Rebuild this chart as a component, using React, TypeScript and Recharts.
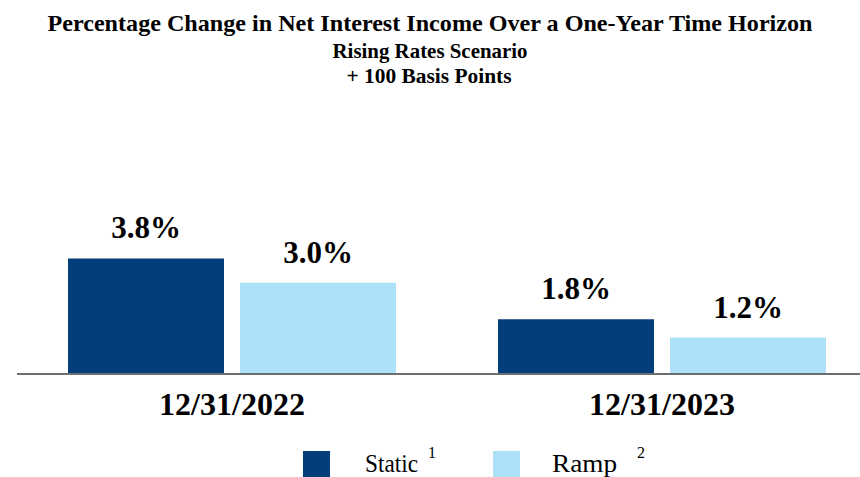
import React from "react";
import { BarChart, Bar, XAxis, YAxis, Legend, LabelList } from "recharts";

const categories = ["12/31/2022", "12/31/2023"];
const staticValues = [3.8, 1.8];
const rampValues = [3.0, 1.2];
const seriesNames = ["Static", "Ramp"];
const seriesNotes = ["1", "2"];
const titleLines = [
  "Percentage Change in Net Interest Income Over a One-Year Time Horizon",
  "Rising Rates Scenario",
  "+ 100 Basis Points",
];

const data = categories.map((c, i) => ({
  date: c,
  static: staticValues[i],
  ramp: rampValues[i],
}));

const FONT = "Liberation Serif, Times New Roman, Times, serif";
const NAVY = "#033D7A";
const LIGHT = "#ADE1FA";

const ValueLabel = (props: any) => {
  const { x, y, width, value } = props;
  return (
    <text
      x={x + width / 2}
      y={y - 20}
      textAnchor="middle"
      style={{ fontFamily: FONT, fontWeight: 700, fontSize: 31 }}
      fill="#000"
    >
      {`${Number(value).toFixed(1)}%`}
    </text>
  );
};

const CategoryTick = (props: any) => {
  const { x, y, payload } = props;
  return (
    <text
      x={x}
      y={y}
      dy={33}
      textAnchor="middle"
      style={{ fontFamily: FONT, fontWeight: 700, fontSize: 32 }}
      fill="#000"
    >
      {payload.value}
    </text>
  );
};

const legendSlots = [
  { sq: 303, txt: 365, len: 53, sup: 428 },
  { sq: 493, txt: 552, len: 65, sup: 637 },
];

const LegendContent = (props: any) => {
  const payload = [...(props.payload || [])].sort(
    (a: any, b: any) => seriesNames.indexOf(a.value) - seriesNames.indexOf(b.value)
  );
  return (
    <svg width={860} height={32} style={{ display: "block" }}>
      {payload.map((p: any, i: number) => {
        const s = legendSlots[i];
        return (
          <g key={i}>
            <rect x={s.sq} y={6} width={27} height={26} fill={p.color} />
            <text
              x={s.txt}
              y={26.5}
              style={{ fontFamily: FONT, fontSize: 25 }}
              textLength={s.len}
              lengthAdjust="spacingAndGlyphs"
              fill="#000"
            >
              {p.value}
            </text>
            <text x={s.sup} y={13} style={{ fontFamily: FONT, fontSize: 16 }} fill="#000">
              {seriesNotes[i]}
            </text>
          </g>
        );
      })}
    </svg>
  );
};

export default function App() {
  return (
    <div
      style={{
        position: "absolute",
        left: 0,
        top: 0,
        width: 860,
        height: 477,
        overflow: "hidden",
        background: "#fff",
      }}
    >
      <svg
        width={860}
        height={95}
        style={{ position: "absolute", left: 0, top: 0, pointerEvents: "none" }}
      >
        <text
          x={430}
          y={31}
          textAnchor="middle"
          style={{ fontFamily: FONT, fontWeight: 700, fontSize: 24 }}
          textLength={765}
          lengthAdjust="spacingAndGlyphs"
        >
          {titleLines[0]}
        </text>
        <text
          x={430}
          y={58}
          textAnchor="middle"
          style={{ fontFamily: FONT, fontWeight: 700, fontSize: 22 }}
          textLength={195}
          lengthAdjust="spacingAndGlyphs"
        >
          {titleLines[1]}
        </text>
        <text
          x={429}
          y={83}
          textAnchor="middle"
          style={{ fontFamily: FONT, fontWeight: 700, fontSize: 22 }}
          textLength={165}
          lengthAdjust="spacingAndGlyphs"
        >
          {titleLines[2]}
        </text>
      </svg>
      <BarChart
        width={877}
        height={477}
        data={data}
        margin={{ top: 222, right: 0, left: 17, bottom: 73 }}
        barGap={16}
        barSize={156}
      >
        <XAxis
          dataKey="date"
          axisLine={{ stroke: "#6E6E6E", strokeWidth: 2 }}
          tickLine={false}
          tick={<CategoryTick />}
          interval={0}
        />
        <YAxis hide domain={[0, 5]} />
        <Legend
          layout="horizontal"
          verticalAlign="middle"
          align="center"
          wrapperStyle={{ position: "absolute", left: 0, top: 445, width: 860 }}
          content={<LegendContent />}
        />
        <Bar dataKey="static" name={seriesNames[0]} fill={NAVY} isAnimationActive={false}>
          <LabelList dataKey="static" content={<ValueLabel />} />
        </Bar>
        <Bar dataKey="ramp" name={seriesNames[1]} fill={LIGHT} isAnimationActive={false}>
          <LabelList dataKey="ramp" content={<ValueLabel />} />
        </Bar>
      </BarChart>
    </div>
  );
}
